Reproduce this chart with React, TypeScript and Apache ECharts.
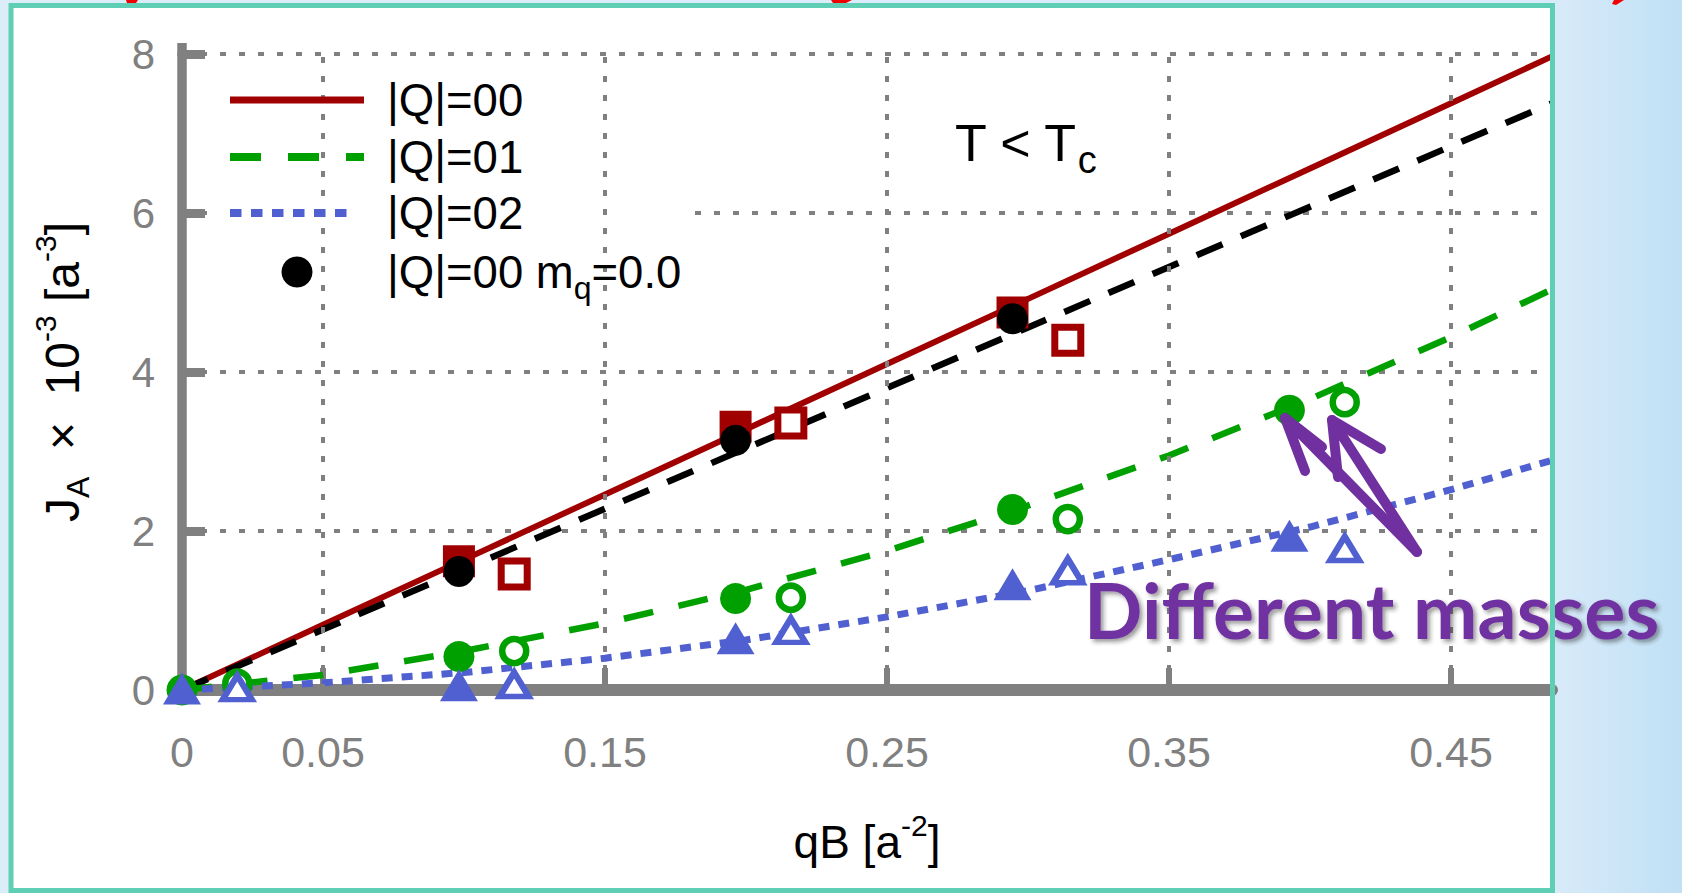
import React, { useEffect, useRef } from "react";
import * as echarts from "echarts";

// ---- data ----
const xTickValues = [0.05, 0.15, 0.25, 0.35, 0.45];
const xLabelValues = [0, 0.05, 0.15, 0.25, 0.35, 0.45];

const qbFilled = [0, 0.0982, 0.1963, 0.2945, 0.3927];
const qbOpen = [0.0196, 0.1178, 0.2159, 0.3141, 0.4123];

const q00Filled = [null, 1.62, 3.31, 4.75, null];
const q00Open = [null, 1.46, 3.36, 4.4, null];
const q00Massless = [null, 1.49, 3.14, 4.67, null];
const q01Filled = [0.0, 0.42, 1.15, 2.27, 3.52];
const q01Open = [0.08, 0.49, 1.16, 2.15, 3.62];
const q02Filled = [0.02, 0.06, 0.65, 1.33, 1.94];
const q02Open = [0.03, 0.07, 0.75, 1.5, 1.78];

const fitX = [0, 0.05, 0.1, 0.15, 0.2, 0.25, 0.3, 0.35, 0.4, 0.45, 0.4858];
const fitQ00 = [0, 0.82, 1.64, 2.46, 3.28, 4.1, 4.92, 5.74, 6.56, 7.38, 7.97];
const fitMassless = [0, 0.76, 1.52, 2.28, 3.04, 3.8, 4.56, 5.32, 6.08, 6.84, 7.38];
const fitQ01 = [0, 0.19, 0.49, 0.84, 1.26, 1.75, 2.32, 2.95, 3.66, 4.44, 5.04];
const fitQ02 = [0, 0.09, 0.22, 0.4, 0.63, 0.92, 1.25, 1.64, 2.05, 2.52, 2.89];

const legendNames = ["|Q|=00", "|Q|=01", "|Q|=02", "|Q|=00 m{sub|q}=0.0"];

const RED = "#A00000";
const GREEN = "#00A000";
const BLUE = "#5060D0";
const GRAY = "#808080";
const PURPLE = "#7030A0";
const FONT = "'Liberation Sans', Arial, Helvetica, sans-serif";

const pairs = (xs: number[], ys: (number | null)[]) =>
  xs.map((x, i) => (ys[i] === null ? null : [x, ys[i]])).filter((p) => p !== null);

export default function App() {
  const ref = useRef<HTMLDivElement>(null);
  useEffect(() => {
    if (!ref.current) return;
    const chart = echarts.init(ref.current, null, { renderer: "svg" });

    const lineSeries = (name: string, ys: number[], color: string, type: any, width: number) => ({
      type: "line",
      name,
      data: pairs(fitX, ys),
      symbol: "none",
      z: 2,
      lineStyle: { color, width, type, cap: "butt" },
    });
    const filled = (name: string, xs: number[], ys: (number | null)[], symbol: string, size: any, color: string) => ({
      type: "scatter",
      name,
      data: pairs(xs, ys),
      symbol,
      symbolSize: size,
      z: 3,
      itemStyle: { color, opacity: 1 },
    });
    const open = (name: string, xs: number[], ys: (number | null)[], symbol: string, size: any, color: string, bw: number) => ({
      type: "scatter",
      name,
      data: pairs(xs, ys),
      symbol,
      symbolSize: size,
      z: 3,
      itemStyle: { color: "#ffffff", borderColor: color, borderWidth: bw, opacity: 1 },
    });

    const rich = {
      sup: { fontSize: 30, verticalAlign: "top", lineHeight: 30, fontFamily: FONT, color: "#000" },
      sub: { fontSize: 32, verticalAlign: "bottom", lineHeight: 32, fontFamily: FONT, color: "#000" },
    };

    const legendY = [100, 157, 213, 272];
    const arrowStyle = { stroke: PURPLE, lineWidth: 10, lineCap: "round", lineJoin: "round", fill: null };

    const option: any = {
      animation: false,
      grid: { left: 182, right: 130, top: 54, bottom: 203 },
      xAxis: {
        type: "value",
        min: 0,
        max: 0.4858,
        axisLine: { show: true, onZero: false, lineStyle: { color: GRAY, width: 12 } },
        axisTick: { show: true, inside: true, length: 22, customValues: xTickValues, lineStyle: { color: GRAY, width: 6 } },
        axisLabel: {
          customValues: xLabelValues,
          formatter: (v: number) => (v === 0 ? "0" : v.toFixed(2)),
          color: GRAY,
          fontSize: 43,
          fontFamily: FONT,
          margin: 40,
        },
        splitLine: { show: false },
        name: "qB [a{sup|-2}]",
        nameLocation: "middle",
        nameGap: 120,
        nameTextStyle: { fontSize: 46, fontFamily: FONT, color: "#000", lineHeight: 64, rich },
      },
      yAxis: {
        type: "value",
        min: 0,
        max: 8,
        interval: 2,
        axisLine: { show: true, lineStyle: { color: GRAY, width: 9.5 } },
        axisTick: { show: true, inside: true, length: 23, lineStyle: { color: GRAY, width: 9 } },
        axisLabel: { color: GRAY, fontSize: 42, fontFamily: FONT, margin: 27 },
        splitLine: { show: true, lineStyle: { color: GRAY, width: 4, type: [6, 13] } },
        name: "J{sub|A}  ×  10{sup|-3} [a{sup|-3}]",
        nameLocation: "middle",
        nameRotate: 90,
        nameGap: 88,
        nameTextStyle: { fontSize: 48, fontFamily: FONT, color: "#000", lineHeight: 64, rich },
      },
      series: [
        {
          type: "scatter",
          name: "grid",
          data: [],
          z: 1,
          silent: true,
          markLine: {
            silent: true,
            symbol: ["none", "none"],
            label: { show: false },
            lineStyle: { color: GRAY, width: 4, type: [6, 13] },
            data: xTickValues.map((v) => ({ xAxis: v })),
          },
        },
        lineSeries("|Q|=00 fit", fitQ00, RED, "solid", 6),
        lineSeries("|Q|=00 m_q=0.0 fit", fitMassless, "#000", [28, 20], 6.5),
        lineSeries("|Q|=01 fit", fitQ01, GREEN, [30, 26], 6.5),
        lineSeries("|Q|=02 fit", fitQ02, BLUE, [11, 9], 7),
        filled("|Q|=00", qbFilled, q00Filled, "rect", 32, RED),
        open("|Q|=00 other mass", qbOpen, q00Open, "rect", 26, RED, 7),
        filled("|Q|=00 m_q=0.0", qbFilled, q00Massless, "circle", 31, "#000"),
        filled("|Q|=01", qbFilled, q01Filled, "circle", 31, GREEN),
        open("|Q|=01 other mass", qbOpen, q01Open, "circle", 24, GREEN, 6.5),
        filled("|Q|=02", qbFilled, q02Filled, "triangle", [38, 32], BLUE),
        open("|Q|=02 other mass", qbOpen, q02Open, "triangle", [29, 24], BLUE, 6),
      ],
      graphic: [
        // white slide panel
        { type: "rect", z: -100, silent: true, shape: { x: 11, y: 5.5, width: 1541.5, height: 885 }, style: { fill: "#fff" } },
        // y-axis extension above top tick
        { type: "line", z: 0, silent: true, shape: { x1: 182, y1: 43, x2: 182, y2: 56 }, style: { stroke: GRAY, lineWidth: 9.5 } },
        // legend box
        { type: "rect", z: 5, silent: true, shape: { x: 212, y: 70, width: 478, height: 235 }, style: { fill: "#fff" } },
        { type: "line", z: 6, shape: { x1: 230, y1: legendY[0], x2: 364, y2: legendY[0] }, style: { stroke: RED, lineWidth: 7 } },
        { type: "line", z: 6, shape: { x1: 230, y1: legendY[1], x2: 364, y2: legendY[1] }, style: { stroke: GREEN, lineWidth: 8, lineDash: [31, 27] } },
        { type: "line", z: 6, shape: { x1: 230, y1: legendY[2], x2: 351, y2: legendY[2] }, style: { stroke: BLUE, lineWidth: 8, lineDash: [11.5, 9.5] } },
        { type: "circle", z: 6, shape: { cx: 297, cy: legendY[3], r: 15.5 }, style: { fill: "#000" } },
        ...legendNames.map((t, i) => ({
          type: "text",
          z: 6,
          style: {
            text: t,
            x: 387,
            y: legendY[i],
            fontSize: 45.5,
            fontFamily: FONT,
            fill: "#000",
            verticalAlign: "middle",
            lineHeight: 64,
            rich: { sub: { fontSize: 32, verticalAlign: "bottom", lineHeight: 32, fontFamily: FONT } },
          },
        })),
        // T < Tc
        {
          type: "text",
          z: 6,
          style: {
            text: "T < T{sub|c}",
            x: 955,
            y: 143,
            fontSize: 52,
            fontFamily: FONT,
            fill: "#000",
            verticalAlign: "middle",
            lineHeight: 72,
            rich: { sub: { fontSize: 38, verticalAlign: "bottom", lineHeight: 38, fontFamily: FONT } },
          },
        },
        // annotation text
        {
          type: "text",
          z: 20,
          style: {
            text: "Different masses",
            x: 1084,
            y: 609,
            fontSize: 77,
            fontWeight: "bold",
            fontFamily: "Lato, 'Open Sans', sans-serif",
            fill: PURPLE,
            verticalAlign: "middle",
            textShadowColor: "rgba(40,40,40,0.45)",
            textShadowBlur: 4,
            textShadowOffsetX: 3,
            textShadowOffsetY: 3,
          },
        },
        // arrows
        { type: "polyline", z: 21, shape: { points: [[1305, 471], [1285, 418], [1417, 552]] }, style: arrowStyle },
        { type: "polyline", z: 21, shape: { points: [[1338, 477], [1332, 420], [1417, 552]] }, style: arrowStyle },
        { type: "polyline", z: 21, shape: { points: [[1381, 449], [1332, 420]] }, style: arrowStyle },
        { type: "polyline", z: 21, shape: { points: [[1285, 418], [1322, 447]] }, style: arrowStyle },
        // teal frame (on top)
        { type: "rect", z: 50, silent: true, shape: { x: 11, y: 5.5, width: 1541.5, height: 885 }, style: { fill: null, stroke: "#5ECFB4", lineWidth: 5 } },
        // clipped red title fragments at the very top
        { type: "polygon", z: 50, shape: { points: [[126, 0], [138, 0], [136, 3], [127, 3]] }, style: { fill: "#F00000" } },
        { type: "polygon", z: 50, shape: { points: [[831, 0], [852, 0], [846, 3], [833, 3]] }, style: { fill: "#F00000" } },
        { type: "polygon", z: 50, shape: { points: [[1614, 0], [1624, 0], [1616, 5], [1612, 4]] }, style: { fill: "#F00000" } },
      ],
    };

    chart.setOption(option);
    return () => chart.dispose();
  }, []);

  return (
    <div
      ref={ref}
      style={{
        position: "fixed",
        left: 0,
        top: 0,
        width: 1682,
        height: 893,
        background: "linear-gradient(90deg, #dcedfa 0%, #d9ebf9 92%, #c0e0f5 100%)",
      }}
    />
  );
}
